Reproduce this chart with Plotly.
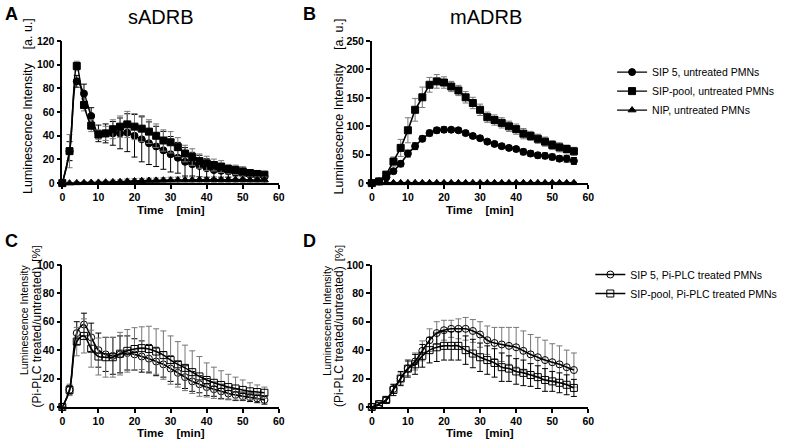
import plotly.graph_objects as go
from plotly.subplots import make_subplots

# time points [min]
t = list(range(0, 57, 2))

# A: sADRB, untreated PMNs [a. u.]
a_sip5 = [0, 27, 86, 75.6, 56.7, 42, 42, 42, 42, 42.6, 40, 37, 33.7, 31, 27.7, 24.4, 21.4,
          18, 16, 14.5, 12.6, 11, 10.4, 9.9, 8.5, 7.7, 7, 6.6, 5.8]
a_sip5_err = [0, 8, 5, 8, 7, 7, 8, 10, 13, 16, 18, 19, 18, 17, 16, 15, 13, 12, 10, 9, 8, 7,
              6, 5, 5, 4, 4, 3, 3]
a_pool = [0, 27, 98.9, 66, 48.5, 41, 42, 45.5, 47.7, 49.6, 47.7, 46, 43.5, 40, 36, 34.5, 30.4,
          25, 22, 18.6, 16.7, 15.3, 14, 11.8, 11.2, 9.9, 8.5, 7.7, 7.1]
a_pool_err = [0, 14, 4, 5, 5, 4, 6, 8, 9, 11, 11, 11, 10, 10, 9, 9, 8, 7, 7, 6, 6, 5, 5, 4, 4,
              4, 3, 3, 3]
a_nip = [0, 0, 0.2, 0.3, 0.5, 0.6, 0.8, 1, 1.2, 1.5, 1.8, 2, 2.2, 2.3, 2.5, 2.5, 2.6, 2.7,
         2.7, 2.8, 2.8, 2.8, 2.8, 2.8, 2.8, 2.8, 2.7, 2.7, 2.6]
a_nip_err = [0, 0.5, 1, 1, 1, 1, 1, 1.5, 1.5, 2, 2, 2, 2, 2, 2, 2.5, 2.5, 2.5, 2.5, 2.5, 2.5,
             2.5, 2.5, 2.5, 2.5, 2.5, 2.5, 2.5, 2.5]

# B: mADRB, untreated PMNs [a. u.]
b_sip5 = [0, 3, 10, 21, 34, 52, 65, 78, 88, 93, 94, 94, 93, 88, 83, 79, 73, 69, 65, 62, 60,
          55, 52, 49, 48, 46, 43, 43, 39]
b_sip5_err = [0, 1, 3, 4, 5, 6, 6, 5, 5, 5, 5, 4, 4, 4, 4, 4, 4, 4, 4, 4, 4, 5, 5, 5, 5, 5,
              5, 6, 6]
b_pool = [0, 3, 15, 38, 62, 93, 129, 151, 173, 179, 177, 170, 163, 151, 141, 129, 116, 111,
          106, 100, 95, 87, 83, 78, 73, 67, 63, 60, 56]
b_pool_err = [0, 2, 4, 8, 15, 22, 20, 18, 13, 12, 10, 9, 9, 10, 10, 10, 9, 9, 9, 9, 9, 9, 8,
              8, 8, 8, 8, 7, 7]
b_nip = [0.5] * 29
b_nip_err = [1] * 29

# C: sADRB, Pi-PLC treated / untreated [%]
c_sip5 = [0, 12, 52, 58, 49, 40, 37, 36, 37, 38, 37, 35.5, 34, 32, 30, 27, 24, 21, 18, 16,
          14, 12.5, 11, 9.5, 8.5, 7.5, 6.8, 6, 5]
c_sip5_err = [0, 3, 8, 8, 10, 12, 12, 13, 13, 12, 11, 11, 10, 10, 9, 9, 8, 8, 7, 6, 6, 5, 5,
              4, 4, 3, 3, 3, 3]
c_pool = [0, 12, 46, 50, 41, 35.5, 35, 35, 37.5, 39.5, 40.8, 41.4, 40.8, 39, 36.5, 33, 30,
          27.5, 24.5, 21.5, 19, 17, 15.5, 14, 13, 12, 11, 10.5, 10]
c_pool_err = [0, 4, 10, 12, 13, 13, 14, 14, 15, 15, 15, 15, 16, 16, 17, 17, 16, 16, 15, 14,
              12, 11, 10, 9, 8, 7, 6, 5, 4]

# D: mADRB, Pi-PLC treated / untreated [%]
d_sip5 = [0, 2, 4.8, 12.7, 20, 27, 32, 39.5, 47, 52, 54, 55, 55, 55, 53.5, 51, 47, 45, 44,
          43, 42, 39.5, 37, 35, 33, 31.5, 30, 28, 26]
d_sip5_err = [0, 1, 2, 3, 4, 5, 6, 7, 8, 8, 7, 6, 7, 8, 8, 9, 10, 11, 12, 13, 14, 14, 14, 14,
              14, 13, 13, 12, 12]
d_pool = [0, 2, 5, 12, 20, 27, 30, 36, 40, 42, 43, 43, 43, 40, 37.6, 35, 33, 31, 28, 27, 25,
          24, 22.5, 21, 19, 18, 17, 15.6, 13.4]
d_pool_err = [0, 1, 2, 4, 5, 6, 7, 8, 9, 10, 10, 10, 10, 10, 10, 10, 10, 10, 10, 9, 9, 9, 8,
              8, 8, 7, 7, 7, 6]

names_top = ["SIP 5, untreated PMNs", "SIP-pool, untreated PMNs", "NIP, untreated PMNs"]
names_bot = ["SIP 5, Pi-PLC treated PMNs", "SIP-pool, Pi-PLC treated PMNs"]
sym_top = ["circle", "square", "triangle-up"]
sym_bot = ["circle-open", "square-open"]

fig = make_subplots(rows=2, cols=2)


def add(row, col, y, err, symbol, shape, errcolor="black"):
    fig.add_trace(go.Scatter(
        x=t, y=y, mode="lines+markers",
        line=dict(color="black", width=1.6, shape=shape, smoothing=1),
        marker=dict(symbol=symbol, size=7, color="black", line=dict(color="black", width=1)),
        error_y=dict(type="data", array=err, color=errcolor, thickness=1, width=3),
        showlegend=False, cliponaxis=False,
    ), row=row, col=col)


add(1, 1, a_sip5, a_sip5_err, "circle", "spline")
add(1, 1, a_pool, a_pool_err, "square", "spline", "#777")
add(1, 1, a_nip, a_nip_err, "triangle-up", "spline", "#777")
add(1, 2, b_sip5, b_sip5_err, "circle", "linear")
add(1, 2, b_pool, b_pool_err, "square", "linear", "#777")
add(1, 2, b_nip, b_nip_err, "triangle-up", "linear")
add(2, 1, c_sip5, c_sip5_err, "circle-open", "spline")
add(2, 1, c_pool, c_pool_err, "square-open", "spline", "#777")
add(2, 2, d_sip5, d_sip5_err, "circle-open", "spline", "#777")
add(2, 2, d_pool, d_pool_err, "square-open", "spline")

# legend entries (no data, legend only)
for names, syms, leg in ((names_top, sym_top, "legend"), (names_bot, sym_bot, "legend2")):
    for name, sym in zip(names, syms):
        fig.add_trace(go.Scatter(
            x=[None], y=[None], name=name, mode="lines+markers", legend=leg,
            line=dict(color="black", width=1.4),
            marker=dict(symbol=sym, size=7, color="black", line=dict(color="black", width=1)),
        ), row=1, col=1)

W, H = 800, 448
tickfont = dict(family="Arial, Liberation Sans", size=10.5, color="black", weight="bold")
axis = dict(showline=True, linecolor="black", linewidth=1.5, ticks="outside", ticklen=4,
            tickwidth=1.5, tickcolor="black", showgrid=False, zeroline=False,
            tickfont=tickfont)

xdom = {1: [60 / W, 279 / W], 2: [373 / W, 592 / W]}
ydom = {1: [1 - 182 / H, 1 - 36 / H], 2: [1 - 412 / H, 1 - 266 / H]}
yranges = {(1, 1): (120, 20), (1, 2): (250, 50), (2, 1): (100, 20), (2, 2): (100, 20)}
for (r, c), (ymax, dt) in yranges.items():
    fig.update_xaxes(axis, range=[0, 60], tickvals=list(range(0, 61, 10)), domain=xdom[c],
                     row=r, col=c)
    fig.update_yaxes(axis, range=[0, ymax], tickvals=list(range(0, ymax + 1, dt)),
                     domain=ydom[r], row=r, col=c)

ann = []


def text(x, y, s, size, bold=False, angle=0, xanchor="center"):
    ann.append(dict(x=x / W, y=1 - y / H, xref="paper", yref="paper", text=s,
                    showarrow=False, textangle=angle, xanchor=xanchor, yanchor="middle",
                    font=dict(family="Arial, Liberation Sans", size=size, color="black",
                              weight="bold" if bold else "normal")))


sp = "\u00a0" * 4
text(9, 8, "A", 18, True)
text(310, 8, "B", 18, True)
text(9, 241, "C", 18, True)
text(310, 241, "D", 18, True)
text(160, 11, "sADRB", 20)
text(489, 11, "mADRB", 20)
text(170, 210, "Time" + sp + "[min]", 11.5, True)
text(482, 210, "Time" + sp + "[min]", 11.5, True)
text(170, 439, "Time" + sp + "[min]", 11.5, True)
text(482, 439, "Time" + sp + "[min]", 11.5, True)
text(26, 103, "Luminescence Intensity" + sp + "[a. u.]", 12.5, angle=-90)
text(340, 103, "Luminescence Intensity" + sp + "[a. u.]", 12.5, angle=-90)
for x0 in (22, 328):
    text(x0, 323, "Luminescence Intensity", 10.5, angle=-90)
    text(x0 + 12, 340, "(Pi-PLC treated/untreated)", 12, angle=-90)
    text(x0 + 12, 254, "[%]", 11.5, angle=-90)

legfont = dict(family="Arial, Liberation Sans", size=10.5, color="black")
fig.update_layout(
    width=W, height=H, margin=dict(l=0, r=0, t=0, b=0),
    paper_bgcolor="white", plot_bgcolor="white",
    annotations=ann,
    legend=dict(x=616 / W, y=1 - 53 / H, xanchor="left", yanchor="top", font=legfont,
                itemwidth=30, bgcolor="rgba(0,0,0,0)", tracegroupgap=0),
    legend2=dict(x=594 / W, y=1 - 261 / H, xanchor="left", yanchor="top", font=legfont,
                 itemwidth=30, bgcolor="rgba(0,0,0,0)", tracegroupgap=0),
)

# page body has a default 8px margin; remove it so the figure sits at the top-left corner
fig.write_html("out.html", config={"displayModeBar": False},
               post_script="document.body.style.margin='0';")
